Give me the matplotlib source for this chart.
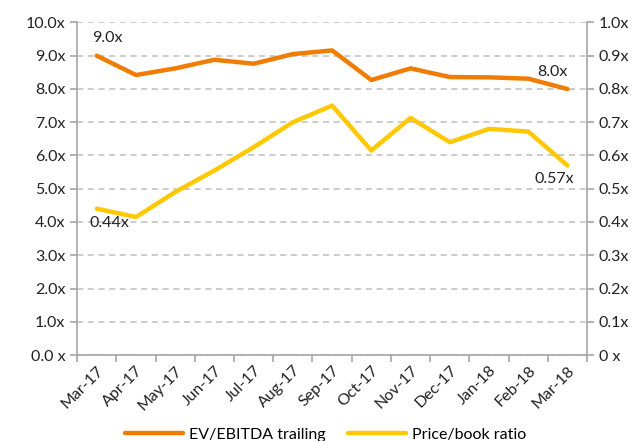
import matplotlib.pyplot as plt

# Data
months = ["Mar-17", "Apr-17", "May-17", "Jun-17", "Jul-17", "Aug-17", "Sep-17",
          "Oct-17", "Nov-17", "Dec-17", "Jan-18", "Feb-18", "Mar-18"]
ev_ebitda = [9.0, 8.42, 8.62, 8.88, 8.76, 9.05, 9.16, 8.27, 8.62, 8.36, 8.35, 8.31, 8.0]
price_book = [0.44, 0.415, 0.49, 0.555, 0.625, 0.70, 0.75, 0.615, 0.713, 0.64, 0.68, 0.672, 0.57]
left_ticks = [f"{v:.1f}x" for v in range(0, 11)]
left_ticks[0] = "0.0 x"
right_ticks = [f"{v / 10:.1f}x" for v in range(0, 11)]
right_ticks[0] = "0 x"

plt.rcParams['font.family'] = ['Lato', 'DejaVu Sans']
orange = "#F07D02"
yellow = "#FFC800"
grey = "#A6A6A6"

fig = plt.figure(figsize=(6.43, 4.41), dpi=100)
ax = fig.add_axes([0.12, 0.195, 0.793, 0.754])
ax2 = ax.twinx()

x = list(range(len(months)))
l1, = ax.plot(x, ev_ebitda, color=orange, lw=3.2, solid_capstyle="round", label="EV/EBITDA trailing")
l2, = ax2.plot(x, price_book, color=yellow, lw=3.2, solid_capstyle="round", label="Price/book ratio")

ax.set_ylim(0, 10)
ax2.set_ylim(0, 1)
ax.set_xlim(-0.5, len(months) - 0.5)
ax.set_yticks(range(0, 11))
ax.set_yticklabels(left_ticks)
ax2.set_yticks([v / 10 for v in range(0, 11)])
ax2.set_yticklabels(right_ticks)

ax.yaxis.grid(True, color="#BFBFBF", ls=(0, (4, 3)), lw=1.1)
ax.set_axisbelow(True)

# x ticks: marks at boundaries, labels at centres
ax.set_xticks([i - 0.5 for i in range(len(months) + 1)])
ax.set_xticklabels([])
ax.set_xticks(x, minor=True)
ax.set_xticklabels(months, minor=True, rotation=45, ha="right", rotation_mode="anchor", fontsize=11.5)
ax.tick_params(axis="x", which="minor", length=0, pad=6)
ax.tick_params(axis="x", which="major", length=5, color=grey, width=1.2)
ax.tick_params(axis="y", length=5, color=grey, width=1.2, labelsize=11.5, colors="#222222")
ax2.tick_params(axis="y", length=5, color=grey, width=1.2, labelsize=11.5, colors="#222222")
for t in ax.get_xticklabels(minor=True):
    t.set_color("#222222")

for a in (ax, ax2):
    a.spines["top"].set_visible(False)
    for s in ("left", "right", "bottom"):
        a.spines[s].set_color(grey)
        a.spines[s].set_linewidth(1.2)
ax.spines["right"].set_visible(False)
ax2.spines["left"].set_visible(False)
ax2.spines["bottom"].set_visible(False)

# end labels
ax.annotate(f"{ev_ebitda[0]:.1f}x", (0, ev_ebitda[0]), xytext=(-3, 8), textcoords="offset points",
            ha="left", va="bottom", fontsize=11.5, color="#222222")
ax.annotate(f"{ev_ebitda[-1]:.1f}x", (12, ev_ebitda[-1]), xytext=(0, 7), textcoords="offset points",
            ha="right", va="bottom", fontsize=11.5, color="#222222")
ax2.annotate(f"{price_book[0]:.2f}x", (0, price_book[0]), xytext=(-5, -5), textcoords="offset points",
             ha="left", va="top", fontsize=11.5, color="#222222")
ax2.annotate(f"{price_book[-1]:.2f}x", (12, price_book[-1]), xytext=(5, -5), textcoords="offset points",
             ha="right", va="top", fontsize=11.5, color="#222222")

fig.legend(handles=[l1, l2], loc="lower center", bbox_to_anchor=(0.507, -0.035), ncol=2,
           frameon=False, fontsize=11.5, handlelength=3.6, columnspacing=1.4, handletextpad=0.4)

plt.savefig("out.png", dpi=100)
